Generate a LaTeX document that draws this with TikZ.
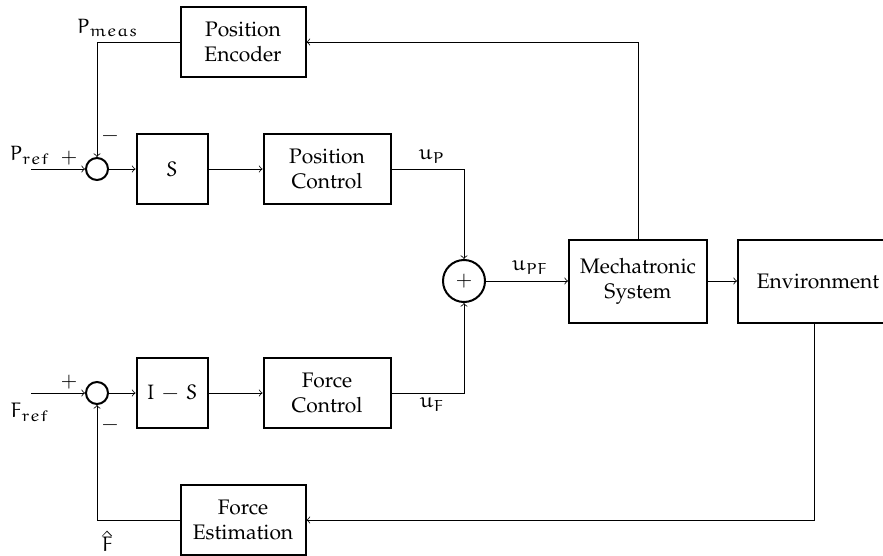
\documentclass[tikz,border=0pt]{standalone}
\usepackage[T1]{fontenc}
\usepackage{mathpazo}
\usepackage{euler}
\begin{document}
\begin{tikzpicture}[x=0.5pt,y=-0.5pt,
  every node/.style={font=\fontsize{10.5}{12.6}\selectfont}]
\tikzset{
  blk/.style={draw, line width=1pt, align=center, inner sep=0pt, minimum height=35pt},
  sumc/.style={draw, circle, line width=1pt, inner sep=0pt},
  conn/.style={->, line width=0.4pt},
  lbl/.style={inner sep=1pt}
}
\useasboundingbox (0,0) rectangle (883,556);
\clip (0,0) rectangle (883,556);

% blocks
\node[blk, minimum width=62.5pt] (pe) at (243,42) {Position\\Encoder};
\node[sumc, minimum size=11pt] (s1) at (97,169) {};
\node[blk, minimum width=35.5pt] (sel) at (172,169) {$S$};
\node[blk, minimum width=63.5pt] (pc) at (327,169) {Position\\Control};
\node[sumc, minimum size=11pt] (s2) at (97,393) {};
\node[blk, minimum width=35.5pt] (isel) at (172,393) {$I\,-\,S$};
\node[blk, minimum width=63.5pt] (fc) at (327,393) {Force\\Control};
\node[sumc, minimum size=21pt] (sum) at (464,281) {$+$};
\node[blk, minimum width=69pt, minimum height=41.5pt] (mech) at (638,281) {Mechatronic\\System};
\node[blk, minimum width=80pt, minimum height=41.5pt] (env) at (818,281) {Environment};
\node[blk, minimum width=62.5pt] (fe) at (243,520) {Force\\Estimation};

% inputs
\coordinate (pin) at (31,169);
\coordinate (fin) at (31,393);

% connectors
\draw[conn] (pin) -- (s1.west);
\draw[conn] (s1) -- (sel);
\draw[conn] (sel) -- (pc);
\draw[conn] (pc.east) -| (sum.north);
\draw[conn] (fin) -- (s2.west);
\draw[conn] (s2) -- (isel);
\draw[conn] (isel) -- (fc);
\draw[conn] (fc.east) -| (sum.south);
\draw[conn] (sum) -- (mech);
\draw[conn] (mech) -- (env);
\draw[conn] (mech.north) |- (pe.east);
\draw[conn] (pe.west) -| (s1.north);
\draw[conn] ([xshift=-2pt]env.south) |- (fe.east);
\draw[conn] (fe.west) -| (s2.south);

% labels
\node[lbl] (pmeas) at (108,28) {$P_{meas}$};
\node[lbl] (pref) at (30,155) {$P_{ref}$};
\node[lbl] (plus1) at (69,158) {$+$};
\node[lbl] (minus1) at (110,136) {$-$};
\node[lbl] (plus2) at (69,382) {$+$};
\node[lbl] (fref) at (30,412) {$F_{ref}$};
\node[lbl] (minus2) at (110,425) {$-$};
\node[lbl] (fhat) at (107,542) {$\hat{F}$};
\node[lbl] (up) at (432,157) {$u_P$};
\node[lbl] (uf) at (432,405) {$u_F$};
\node[lbl] (upf) at (530,268) {$u_{PF}$};
\end{tikzpicture}
\end{document}
